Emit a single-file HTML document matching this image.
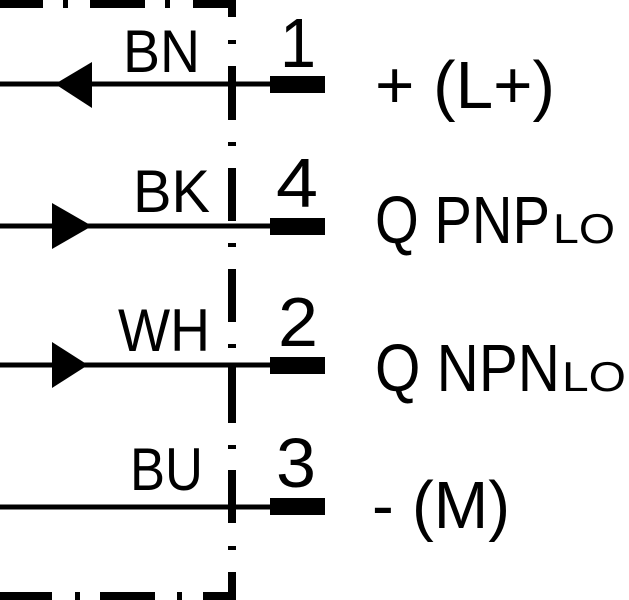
<!DOCTYPE html>
<html><head><style>html,body{margin:0;padding:0;background:#fff}svg{display:block}</style></head>
<body>
<svg width="629" height="600" viewBox="0 0 629 600" xmlns="http://www.w3.org/2000/svg" font-family="Liberation Sans, sans-serif" fill="#000">
<g stroke="#000" stroke-width="8" fill="none">
<path d="M0 4 H43 M63 4 H68 M90 4 H145 M165 4 H170 M193 4 H232 V17"/>
<path d="M232 40 V44 M232 66 V120 M232 142 V146 M232 168 V221 M232 243 V247 M232 269 V322 M232 344 V348 M232 366 V423 M232 445 V449 M232 470 V523 M232 546 V550 M232 572 V596 H203 M182 596 H177 M155 596 H100 M80 596 H75 M52 596 H0"/>
</g>
<g stroke="#000" stroke-width="5">
<line x1="0" y1="84" x2="272" y2="84"/>
<line x1="0" y1="226" x2="272" y2="226"/>
<line x1="0" y1="365" x2="272" y2="365"/>
<line x1="0" y1="507" x2="272" y2="507"/>
</g>
<rect x="270" y="76" width="55" height="17"/>
<rect x="270" y="218" width="55" height="17"/>
<rect x="270" y="357" width="55" height="17"/>
<rect x="270" y="498" width="55" height="17"/>
<polygon points="55,84 92,62 92,108"/>
<polygon points="52,203 92,226 52,249"/>
<polygon points="52,342 88,365 52,388"/>
<g font-size="60">
<text x="123" y="72" textLength="77" lengthAdjust="spacingAndGlyphs">BN</text>
<text x="133" y="212" textLength="77" lengthAdjust="spacingAndGlyphs">BK</text>
<text x="118" y="351" textLength="92" lengthAdjust="spacingAndGlyphs">WH</text>
<text x="130" y="490" textLength="73" lengthAdjust="spacingAndGlyphs">BU</text>
</g>
<g font-size="70">
<text x="280" y="67" textLength="36" lengthAdjust="spacingAndGlyphs">1</text>
<text x="276" y="207" textLength="42" lengthAdjust="spacingAndGlyphs">4</text>
<text x="278" y="346" textLength="40" lengthAdjust="spacingAndGlyphs">2</text>
<text x="276" y="487" textLength="40" lengthAdjust="spacingAndGlyphs">3</text>
</g>
<g font-size="67">
<text x="375" y="108" textLength="180" lengthAdjust="spacingAndGlyphs">+ (L+)</text>
<text x="375" y="243" textLength="175" lengthAdjust="spacingAndGlyphs">Q PNP</text>
<text x="375" y="391" textLength="185" lengthAdjust="spacingAndGlyphs">Q NPN</text>
<text x="372" y="528" textLength="138" lengthAdjust="spacingAndGlyphs">- (M)</text>
</g>
<g font-size="42">
<text x="553" y="243" textLength="62" lengthAdjust="spacingAndGlyphs">LO</text>
<text x="562" y="391" textLength="64" lengthAdjust="spacingAndGlyphs">LO</text>
</g>
</svg>
</body></html>
